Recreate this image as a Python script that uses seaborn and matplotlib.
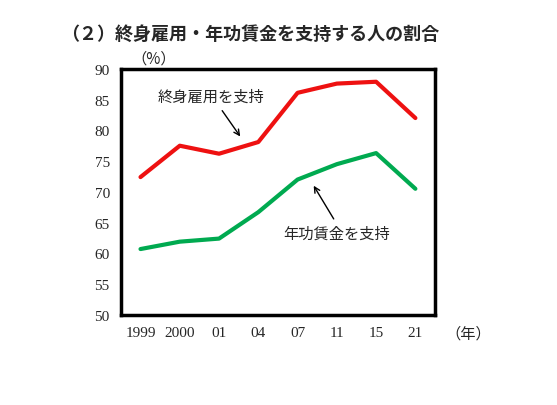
import numpy as np
import pandas as pd
import matplotlib
matplotlib.use('Agg')
import matplotlib.pyplot as plt
import seaborn as sns

years = ['1999', '2000', '01', '04', '07', '11', '15', '21']
lifetime = [72.4, 77.5, 76.2, 78.1, 86.1, 87.6, 87.9, 82.0]
seniority = [60.7, 61.9, 62.4, 66.7, 72.0, 74.5, 76.3, 70.5]

sns.set_style('white')
plt.rcParams['font.family'] = ['Liberation Serif', 'Noto Sans CJK JP']

df = pd.DataFrame({'x': np.arange(len(years)), 'life': lifetime, 'sen': seniority})

fig = plt.figure(figsize=(5.57, 4.06), dpi=100)
ax = fig.add_axes([0.217, 0.222, 0.564, 0.606])
sns.lineplot(data=df, x='x', y='life', color='#ee1111', lw=3, ax=ax)
sns.lineplot(data=df, x='x', y='sen', color='#00aa50', lw=3, ax=ax)

ax.set_xlim(-0.5, len(years) - 0.5)
ax.set_ylim(50, 90)
ax.set_yticks(range(50, 91, 5))
ax.set_xticks(df['x'])
ax.set_xticklabels(years)
ax.set_xlabel('')
ax.set_ylabel('')
ax.tick_params(labelsize=11, length=0, pad=8)
for s in ax.spines.values():
    s.set_color('black')
    s.set_linewidth(2.5)

jp = ['Noto Sans CJK JP']
ax.text(1.8, 85.5, '終身雇用を支持', ha='center', va='center', fontsize=11, family=jp)
ax.annotate('', xy=(2.54, 79.0), xytext=(2.08, 83.2),
            arrowprops=dict(arrowstyle='->', color='black', lw=1, shrinkA=0, shrinkB=0))
ax.text(5.0, 63.3, '年功賃金を支持', ha='center', va='center', fontsize=11, family=jp)
ax.annotate('', xy=(4.41, 71.0), xytext=(4.92, 65.6),
            arrowprops=dict(arrowstyle='->', color='black', lw=1, shrinkA=0, shrinkB=0))

fig.text(0.11, 0.915, '（２）終身雇用・年功賃金を支持する人の割合',
         fontsize=13, fontweight='bold', family=jp, va='center')
fig.text(0.235, 0.855, '（%）', fontsize=11, family=jp, va='center')
fig.text(0.80, 0.178, '（年）', fontsize=11, family=jp, va='center')

fig.savefig('out.png', dpi=100)
